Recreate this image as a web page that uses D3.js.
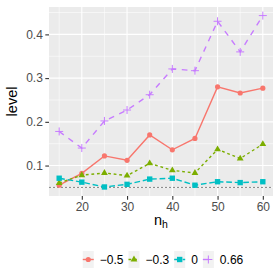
<!DOCTYPE html>
<html>
<head>
<meta charset="UTF-8">
<script src="https://d3js.org/d3.v7.min.js"></script>
<style>
  body { margin: 0; background: #fff; }
  svg { display: block; font-family: "Liberation Sans", Arial, sans-serif; }
</style>
</head>
<body>
<div id="chart"></div>
<script>
  // data
  const nh = [15, 20, 25, 30, 35, 40, 45, 50, 55, 60];
  const levelNeg05 = [0.055, 0.082, 0.122, 0.112, 0.170, 0.136, 0.162, 0.280, 0.266, 0.277];
  const levelNeg03 = [0.060, 0.078, 0.083, 0.077, 0.105, 0.089, 0.083, 0.137, 0.116, 0.149];
  const level0     = [0.071, 0.062, 0.051, 0.057, 0.069, 0.071, 0.055, 0.063, 0.061, 0.063];
  const level066   = [0.178, 0.140, 0.202, 0.227, 0.262, 0.321, 0.317, 0.430, 0.360, 0.443];
  const seriesLabels = ["\u22120.5", "\u22120.3", "0", "0.66"];
  const refLevel = 0.05;
  const xTicks = [20, 30, 40, 50, 60];
  const yTicks = [0.1, 0.2, 0.3, 0.4];

  const colors = ["#F8766D", "#7CAE00", "#00BFC4", "#C77CFF"];
  const dashes = [null, "2.8,2.8", "5.7,2.8", "5.7,5.7"];
  const shapes = ["circle", "triangle", "square", "plus"];
  const allSeries = [levelNeg05, levelNeg03, level0, level066];

  const width = 280, height = 280;
  const panel = {left: 49, right: 273, top: 7, bottom: 196};

  const svg = d3.select("#chart").append("svg")
    .attr("width", width).attr("height", height);

  // ggplot-like 5% expansion
  function expand(lo, hi) { const d = (hi - lo) * 0.05; return [lo - d, hi + d]; }
  const x = d3.scaleLinear().domain(expand(d3.min(nh), d3.max(nh))).range([panel.left, panel.right]);
  const allVals = allSeries.flat().concat([refLevel]);
  const y = d3.scaleLinear().domain(expand(d3.min(allVals), d3.max(allVals))).range([panel.bottom, panel.top]);

  svg.append("rect")
    .attr("x", panel.left).attr("y", panel.top)
    .attr("width", panel.right - panel.left).attr("height", panel.bottom - panel.top)
    .attr("fill", "#EBEBEB");

  // grid
  const xMinor = xTicks.map(t => t - 5).concat([65]).filter(t => t >= x.domain()[0] && t <= x.domain()[1]);
  const yMinor = yTicks.map(t => t - 0.05).concat([0.45]).filter(t => t >= y.domain()[0] && t <= y.domain()[1]);
  const grid = svg.append("g").attr("stroke", "#fff");
  grid.selectAll(".xm").data(xMinor).join("line")
    .attr("x1", d => x(d)).attr("x2", d => x(d)).attr("y1", panel.top).attr("y2", panel.bottom).attr("stroke-width", 0.55);
  grid.selectAll(".ym").data(yMinor).join("line")
    .attr("y1", d => y(d)).attr("y2", d => y(d)).attr("x1", panel.left).attr("x2", panel.right).attr("stroke-width", 0.55);
  grid.selectAll(".xM").data(xTicks).join("line")
    .attr("x1", d => x(d)).attr("x2", d => x(d)).attr("y1", panel.top).attr("y2", panel.bottom).attr("stroke-width", 1.1);
  grid.selectAll(".yM").data(yTicks).join("line")
    .attr("y1", d => y(d)).attr("y2", d => y(d)).attr("x1", panel.left).attr("x2", panel.right).attr("stroke-width", 1.1);

  // axes
  const xAxis = svg.append("g").attr("transform", `translate(0,${panel.bottom})`)
    .call(d3.axisBottom(x).tickValues(xTicks).tickSize(3.7).tickPadding(2.5).tickFormat(d3.format("d")));
  const yAxis = svg.append("g").attr("transform", `translate(${panel.left},0)`)
    .call(d3.axisLeft(y).tickValues(yTicks).tickSize(3.7).tickPadding(2.5).tickFormat(d3.format(".1f")));
  [xAxis, yAxis].forEach(a => {
    a.select(".domain").remove();
    a.selectAll(".tick line").attr("stroke", "#333").attr("stroke-width", 1.1);
    a.selectAll(".tick text").attr("fill", "#4D4D4D").attr("font-size", 12).attr("font-family", "Liberation Sans, Arial, sans-serif");
  });

  // reference line
  svg.append("line")
    .attr("x1", panel.left).attr("x2", panel.right)
    .attr("y1", y(refLevel)).attr("y2", y(refLevel))
    .attr("stroke", "#555").attr("stroke-width", 0.7).attr("stroke-dasharray", "2,2");

  function symbolPath(shape) {
    if (shape === "plus") return "M-4,0H4M0,-4V4";
    if (shape === "circle") return d3.symbol(d3.symbolCircle, 21)();
    if (shape === "triangle") return d3.symbol(d3.symbolTriangle, 20)();
    return d3.symbol(d3.symbolSquare, 29)();
  }
  function drawSymbol(g, shape, color) {
    const p = g.append("path").attr("d", symbolPath(shape));
    if (shape === "plus") p.attr("fill", "none").attr("stroke", color).attr("stroke-width", 1);
    else p.attr("fill", color);
  }

  const line = d3.line().x((d, i) => x(nh[i])).y(d => y(d));
  allSeries.forEach((vals, s) => {
    svg.append("path").datum(vals)
      .attr("d", line).attr("fill", "none")
      .attr("stroke", colors[s]).attr("stroke-width", 1.4)
      .attr("stroke-dasharray", dashes[s]);
    vals.forEach((v, i) => {
      const g = svg.append("g").attr("transform", `translate(${x(nh[i])},${y(v)})`);
      drawSymbol(g, shapes[s], colors[s]);
    });
  });

  // axis titles
  svg.append("text")
    .attr("transform", `translate(17,${(panel.top + panel.bottom) / 2}) rotate(-90)`)
    .attr("text-anchor", "middle").attr("font-size", 14.5).attr("fill", "#000")
    .text("level");
  const xt = svg.append("text")
    .attr("x", (panel.left + panel.right) / 2).attr("y", 224.5)
    .attr("text-anchor", "middle").attr("font-size", 14.5).attr("fill", "#000");
  xt.append("tspan").text("n");
  xt.append("tspan").attr("font-size", 10.5).attr("dy", 3.5).text("h");

  // legend
  const legend = svg.append("g");
  const keyW = 11, keyGap = 6, itemGap = 5, legendY = 259.5;
  let cx = 0;
  seriesLabels.forEach((lab, s) => {
    const item = legend.append("g").attr("transform", `translate(${cx},0)`);
    item.append("rect").attr("x", 0).attr("y", legendY - 8.5).attr("width", keyW).attr("height", 17).attr("fill", "#F2F2F2");
    item.append("line").attr("x1", 0).attr("x2", keyW).attr("y1", legendY).attr("y2", legendY)
      .attr("stroke", colors[s]).attr("stroke-width", 1.4).attr("stroke-dasharray", dashes[s]);
    const g = item.append("g").attr("transform", `translate(${keyW / 2},${legendY})`);
    drawSymbol(g, shapes[s], colors[s]);
    const t = item.append("text").attr("x", keyW + keyGap).attr("y", legendY + 4.2)
      .attr("font-size", 12).attr("fill", "#000").text(lab);
    cx += keyW + keyGap + t.node().getComputedTextLength() + itemGap;
  });
  const legendW = cx - itemGap;
  legend.attr("transform", `translate(${163 - legendW / 2},0)`);
</script>
</body>
</html>
